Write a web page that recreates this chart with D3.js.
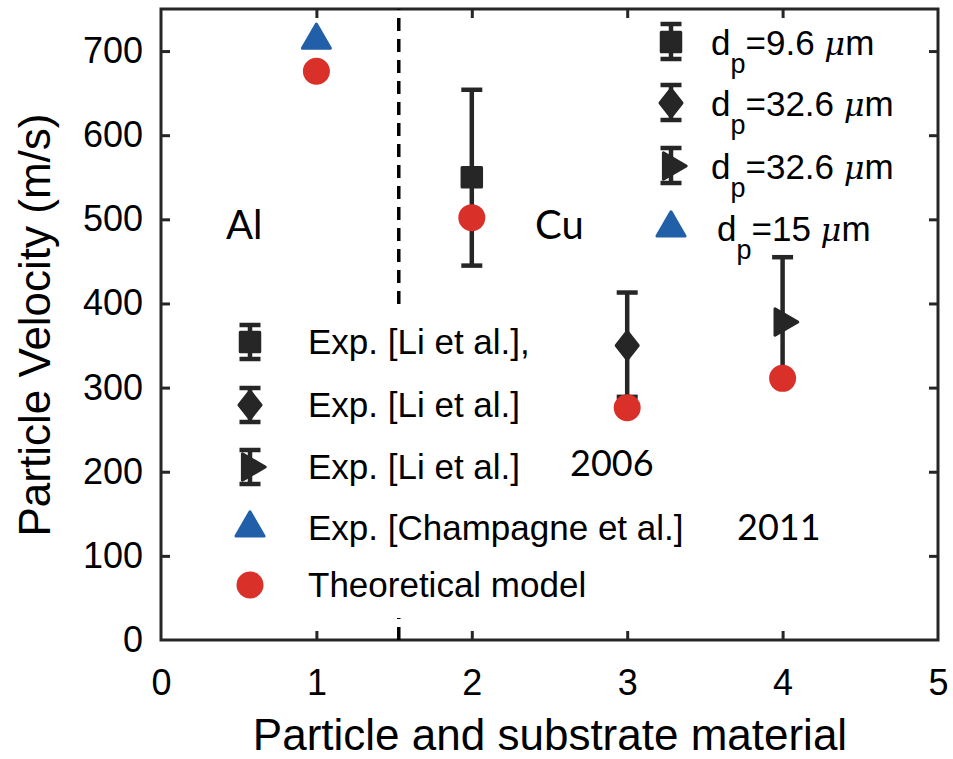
<!DOCTYPE html>
<html>
<head>
<meta charset="utf-8">
<script src="https://cdn.jsdelivr.net/npm/d3@7"></script>
<style>
  body { margin: 0; background: #fff; }
  text { font-family: Arial, "Liberation Sans", sans-serif; fill: #000; }
  .note { font-family: Lato, "Open Sans", sans-serif; }
</style>
</head>
<body>
<svg id="chart" width="953" height="759"></svg>
<script>
// values
const xTicks = [0, 1, 2, 3, 4, 5];
const yTicks = [0, 100, 200, 300, 400, 500, 600, 700];

// Li et al. measurements, with error bars
const liX = [2, 3, 4];
const liVel = [550, 350, 378];
const liLow = [445, 289, 304];
const liHigh = [654, 413, 455];
const liShape = ['square', 'diamond', 'right'];

// Champagne et al.
const champX = [1];
const champVel = [713];

// theoretical model
const modelX = [1, 2, 3, 4];
const modelVel = [676, 502, 276, 311];

const dividerX = 1.53;

const sizeLabels = ['9.6', '32.6', '32.6', '15'];
const sourceLabels = ['Exp. [Li et al.],', 'Exp. [Li et al.]', 'Exp. [Li et al.]', 'Exp. [Champagne et al.]', 'Theoretical model'];

const dark = '#262626', red = '#d9302a', blue = '#2160a9';

const svg = d3.select('#chart');
const x = d3.scaleLinear().domain([0, 5]).range([161, 938]);
const y = d3.scaleLinear().domain([0, 750]).range([640, 9]);

// diamond a bit wider than d3's own
const diamond = {
  draw(ctx) {
    ctx.moveTo(0, -14); ctx.lineTo(11, 0); ctx.lineTo(0, 14); ctx.lineTo(-11, 0); ctx.closePath();
  }
};

// marker builder
function marker(g, shape, cx, cy) {
  if (shape === 'circle') {
    g.append('circle').attr('cx', cx).attr('cy', cy).attr('r', 13.5).attr('fill', red);
    return;
  }
  let sym, size = 64, rot = 0, col = dark;
  if (shape === 'square') { sym = d3.symbolSquare; size = 380; }
  if (shape === 'diamond') { sym = diamond; }
  if (shape === 'right') { sym = d3.symbolTriangle; size = 300; rot = 90; }
  if (shape === 'up') { sym = d3.symbolTriangle; size = 340; col = blue; }
  g.append('path')
    .attr('d', d3.symbol().type(sym).size(size)())
    .attr('transform', `translate(${cx},${cy}) rotate(${rot})`)
    .attr('fill', col).attr('stroke', col)
    .attr('stroke-width', 3).attr('stroke-linejoin', 'round');
}

function errBar(g, cx, y1, y2) {
  g.append('line').attr('x1', cx).attr('x2', cx).attr('y1', y1).attr('y2', y2)
    .attr('stroke', dark).attr('stroke-width', 4.5);
  [y1, y2].forEach(v => {
    g.append('line').attr('x1', cx - 10.5).attr('x2', cx + 10.5).attr('y1', v).attr('y2', v)
      .attr('stroke', dark).attr('stroke-width', 4.5);
  });
}

// axes, ticks pointing inward
const xAxis = svg.append('g').attr('transform', 'translate(0,640)')
  .call(d3.axisBottom(x).tickValues(xTicks).tickFormat(d3.format('d')).tickSizeInner(-9).tickSizeOuter(0).tickPadding(29));
const xTop = svg.append('g').attr('transform', 'translate(0,9)')
  .call(d3.axisTop(x).tickValues(xTicks).tickFormat('').tickSizeInner(-9).tickSizeOuter(0));
const yAxis = svg.append('g').attr('transform', 'translate(161,0)')
  .call(d3.axisLeft(y).tickValues(yTicks).tickSizeInner(-9).tickSizeOuter(0).tickPadding(18));
const yRight = svg.append('g').attr('transform', 'translate(938,0)')
  .call(d3.axisRight(y).tickValues(yTicks).tickFormat('').tickSizeInner(-9).tickSizeOuter(0));

[xAxis, xTop, yAxis, yRight].forEach(a => {
  a.select('.domain').remove();
  a.selectAll('line').attr('stroke', dark).attr('stroke-width', 3);
  a.selectAll('text').attr('font-size', 36).attr('fill', dark)
    .attr('font-family', 'Arial, "Liberation Sans", sans-serif');
});
xTop.selectAll('.tick').filter(d => d === 0 || d === 5).remove();
xAxis.selectAll('.tick line').filter(d => d === 0 || d === 5).remove();
yAxis.selectAll('.tick line').filter(d => d === 0).remove();
yRight.selectAll('.tick').filter(d => d === 0).remove();

svg.append('rect').attr('x', 161).attr('y', 9).attr('width', 777).attr('height', 631)
  .attr('fill', 'none').attr('stroke', dark).attr('stroke-width', 3);

// divider between Al and Cu
svg.append('line')
  .attr('x1', x(dividerX)).attr('x2', x(dividerX)).attr('y1', y(0)).attr('y2', y(750))
  .attr('stroke', '#000').attr('stroke-width', 3.5).attr('stroke-dasharray', '13,8');

// white legend background hides the divider under the lower legend
svg.append('rect').attr('x', 222).attr('y', 306).attr('width', 350).attr('height', 312).attr('fill', '#fff');

// axis titles
svg.append('text').attr('x', 550).attr('y', 750).attr('text-anchor', 'middle')
  .attr('font-size', 44).attr('fill', dark).text('Particle and substrate material');
svg.append('text').attr('transform', 'translate(50,325) rotate(-90)').attr('text-anchor', 'middle')
  .attr('font-size', 44).attr('fill', dark).text('Particle Velocity (m/s)');

// data marks
const plot = svg.append('g');
liX.forEach((d, i) => errBar(plot, x(d), y(liHigh[i]), y(liLow[i])));
liX.forEach((d, i) => marker(plot, liShape[i], x(d), y(liVel[i])));
champX.forEach((d, i) => marker(plot, 'up', x(d), y(champVel[i])));
modelX.forEach((d, i) => marker(plot, 'circle', x(d), y(modelVel[i])));

// annotations
svg.append('text').attr('class', 'note').attr('x', 226).attr('y', 239).attr('font-size', 40).text('Al');
svg.append('text').attr('class', 'note').attr('x', 535).attr('y', 239).attr('font-size', 40).text('Cu');
svg.append('text').attr('class', 'note').attr('x', 570).attr('y', 476).attr('font-size', 36).text('2006');
svg.append('text').attr('class', 'note').attr('x', 737).attr('y', 540).attr('font-size', 36).text('2011');

// size legend (top right)
const legA = svg.append('g');
const rowsA = [42, 103, 166, 228];
const shapesA = ['square', 'diamond', 'right', 'up'];
sizeLabels.forEach((lab, i) => {
  const cy = rowsA[i];
  if (i < 3) errBar(legA, 671, cy - 18, cy + 17);
  marker(legA, shapesA[i], 671, cy);
  const t = legA.append('text').attr('x', i === 3 ? 717 : 711).attr('y', cy + 13)
    .attr('font-size', 35).attr('fill', dark);
  t.append('tspan').text('d');
  t.append('tspan').attr('font-size', 27).attr('dy', 18).text('p');
  t.append('tspan').attr('dy', -18).text('=' + lab + ' ');
  t.append('tspan').attr('font-style', 'italic').attr('font-family', '"DejaVu Serif", serif').attr('font-size', 32).text('μ');
  t.append('tspan').text('m');
});

// source legend (lower left)
const legB = svg.append('g');
const rowsB = [342, 405, 467, 528, 585];
const shapesB = ['square', 'diamond', 'right', 'up', 'circle'];
sourceLabels.forEach((lab, i) => {
  const cy = rowsB[i];
  if (i < 3) errBar(legB, 250, cy - 17, cy + 17);
  marker(legB, shapesB[i], 250, cy);
  legB.append('text').attr('x', 308).attr('y', cy + 12)
    .attr('font-size', 35).attr('fill', dark).text(lab);
});
</script>
</body>
</html>
